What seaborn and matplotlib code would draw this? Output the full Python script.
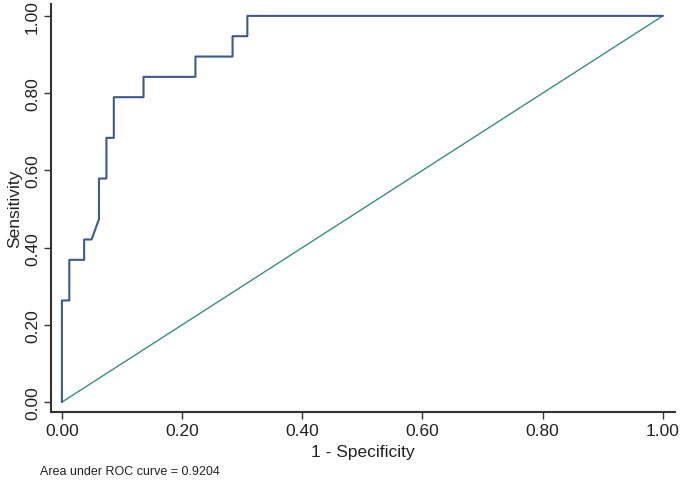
#!/usr/bin/env python3
"""ROC curve, Stata-style, redrawn with seaborn."""

import matplotlib

matplotlib.use("Agg")
import matplotlib.pyplot as plt
import pandas as pd
import seaborn as sns

# ROC points (1 - specificity, sensitivity)
fpr = [0.0, 0.0, 0.0123, 0.0123, 0.0370, 0.0370, 0.0494, 0.0617, 0.0617,
       0.0741, 0.0741, 0.0864, 0.0864, 0.1358, 0.1358, 0.2222, 0.2222,
       0.2840, 0.2840, 0.3086, 0.3086, 1.0]
tpr = [0.0, 0.2632, 0.2632, 0.3684, 0.3684, 0.4211, 0.4211, 0.4737, 0.5789,
       0.5789, 0.6842, 0.6842, 0.7895, 0.7895, 0.8421, 0.8421, 0.8947,
       0.8947, 0.9474, 0.9474, 1.0, 1.0]
ref_x = [0.0, 1.0]
ref_y = [0.0, 1.0]
ticks = [0.0, 0.2, 0.4, 0.6, 0.8, 1.0]
tick_labels = ["0.00", "0.20", "0.40", "0.60", "0.80", "1.00"]
auc_text = "Area under ROC curve = 0.9204"

sns.set_theme(style="ticks")
plt.rcParams["font.family"] = ["Liberation Sans", "DejaVu Sans"]

roc = pd.DataFrame({"fpr": fpr, "tpr": tpr})
diag = pd.DataFrame({"x": ref_x, "y": ref_y})

fig = plt.figure(figsize=(6.81, 4.81), dpi=100)
ax = fig.add_axes([0.075, 0.141, 0.916, 0.848])

sns.lineplot(data=diag, x="x", y="y", ax=ax, color="#35907f", linewidth=1.0,
             estimator=None, sort=False)
sns.lineplot(data=roc, x="fpr", y="tpr", ax=ax, color="#3c5a8e", linewidth=1.5,
             estimator=None, sort=False)

ax.set_xlim(-0.018, 1.02)
ax.set_ylim(-0.026, 1.03)
ax.set_xticks(ticks)
ax.set_xticklabels(tick_labels, fontsize=12.5, color="#222222")
ax.set_yticks(ticks)
ax.set_yticklabels(tick_labels, fontsize=12.5, color="#222222", rotation=90, va="center")
ax.set_xlabel("1 - Specificity", fontsize=12.5, color="#222222", labelpad=4)
ax.set_ylabel("Sensitivity", fontsize=12.5, color="#222222", labelpad=2)
ax.tick_params(axis="both", length=5, width=1, color="#333333", pad=3)

sns.despine(ax=ax)
for side in ("left", "bottom"):
    ax.spines[side].set_color("#333333")
    ax.spines[side].set_linewidth(1.5)

fig.text(0.059, 0.019, auc_text, fontsize=9, color="#222222", va="center")

fig.savefig("out.png", dpi=100, facecolor="white")
